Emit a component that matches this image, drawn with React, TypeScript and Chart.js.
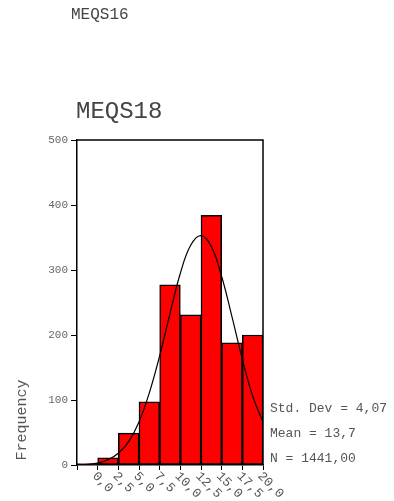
import React, { useEffect, useRef } from "react";
import { Chart, registerables } from "chart.js";

Chart.register(...registerables);

const binCenters = [0, 2.5, 5, 7.5, 10, 12.5, 15, 17.5, 20];
const binLabels = ["0,0", "2,5", "5,0", "7,5", "10,0", "12,5", "15,0", "17,5", "20,0"];
const frequencies = [2, 11, 49, 97, 277, 231, 384, 188, 200];

const curveX = [-1.25, 0, 1.25, 2.5, 3.75, 5, 6.25, 7.5, 8.75, 10, 11.25, 12.5, 13.75, 15, 16.25, 17.5, 18.75, 20, 21.25];
const curveY = [0, 1, 3, 8, 18, 36, 66, 111, 168, 233, 295, 338, 353, 336, 290, 228, 163, 106, 66];

const yTicks = [0, 100, 200, 300, 400, 500];
const statLines = ["Std. Dev = 4,07", "Mean = 13,7", "N = 1441,00"];
const topTitle = "MEQS16";
const chartTitle = "MEQS18";
const yTitle = "Frequency";

const FONT = "'Liberation Mono', 'Courier New', monospace";

export default function App() {
  const ref = useRef<HTMLCanvasElement | null>(null);

  useEffect(() => {
    const canvas = ref.current;
    if (!canvas) return;

    const overlay = {
      id: "overlay",
      afterDraw(chart: any) {
        const ctx = chart.ctx;
        const area = chart.chartArea;
        const xs = chart.scales.x;
        ctx.save();
        // frame top/right
        ctx.strokeStyle = "#000";
        ctx.lineWidth = 1.5;
        ctx.beginPath();
        ctx.moveTo(area.left, area.top);
        ctx.lineTo(area.right, area.top);
        ctx.lineTo(area.right, area.bottom);
        ctx.stroke();

        ctx.fillStyle = "#444";
        ctx.textAlign = "left";
        ctx.textBaseline = "alphabetic";
        ctx.font = `16px ${FONT}`;
        ctx.fillText(topTitle, 71, 19);
        ctx.font = `24px ${FONT}`;
        ctx.fillText(chartTitle, 76, 118);

        ctx.font = `13px ${FONT}`;
        ctx.fillStyle = "#555";
        statLines.forEach((s, i) => {
          ctx.fillText(s, 270, 412 + i * 25);
        });

        // y title
        ctx.save();
        ctx.translate(26, 420);
        ctx.rotate(-Math.PI / 2);
        ctx.textAlign = "center";
        ctx.font = `15px ${FONT}`;
        ctx.fillStyle = "#555";
        ctx.fillText(yTitle, 0, 0);
        ctx.restore();

        // x labels rotated clockwise
        ctx.font = `13px ${FONT}`;
        ctx.fillStyle = "#555";
        binCenters.forEach((v, i) => {
          const px = xs.getPixelForValue(v);
          ctx.save();
          ctx.translate(px + 7, area.bottom + 9);
          ctx.rotate(Math.PI / 4);
          ctx.textAlign = "left";
          ctx.textBaseline = "middle";
          ctx.fillText(binLabels[i], 0, 0);
          ctx.restore();
        });
        ctx.restore();
      },
    };

    const chart = new Chart(canvas, {
      type: "bar",
      data: {
        datasets: [
          {
            type: "line",
            data: curveX.map((x, i) => ({ x, y: curveY[i] })),
            borderColor: "#000",
            borderWidth: 1.2,
            pointRadius: 0,
            tension: 0.4,
            fill: false,
            order: 0,
          } as any,
          {
            type: "bar",
            data: binCenters.map((x, i) => ({ x, y: frequencies[i] })),
            backgroundColor: "#ff0000",
            borderColor: "#000",
            borderWidth: 1.5,
            borderSkipped: false,
            barPercentage: 1,
            categoryPercentage: 1,
            order: 1,
          } as any,
        ],
      },
      options: {
        responsive: false,
        animation: false,
        events: [],
        layout: { padding: { top: 140, right: 131, left: 0, bottom: 0 } },
        plugins: { legend: { display: false }, tooltip: { enabled: false }, title: { display: false } },
        scales: {
          x: {
            type: "linear",
            min: -1.25,
            max: 21.25,
            offset: false,
            afterBuildTicks: (s: any) => {
              s.ticks = binCenters.map((v) => ({ value: v }));
            },
            afterFit: (s: any) => {
              s.height = 36;
            },
            ticks: { display: false },
            grid: { drawOnChartArea: false, drawTicks: true, tickLength: 5, color: "#000", lineWidth: 1 },
            border: { display: true, color: "#000", width: 1.5 },
          },
          y: {
            min: 0,
            max: 500,
            afterBuildTicks: (s: any) => {
              s.ticks = yTicks.map((v) => ({ value: v }));
            },
            afterFit: (s: any) => {
              s.width = 77;
            },
            ticks: { color: "#666", font: { family: FONT, size: 11 }, padding: 3 },
            grid: { drawOnChartArea: false, drawTicks: true, tickLength: 6, color: "#000", lineWidth: 1 },
            border: { display: true, color: "#000", width: 1.5 },
          },
        },
      },
      plugins: [overlay],
    });

    return () => chart.destroy();
  }, []);

  return (
    <div style={{ position: "absolute", left: 0, top: 0, width: 394, height: 501, background: "#fff" }}>
      <canvas ref={ref} width={394} height={501} style={{ width: 394, height: 501, display: "block" }} />
    </div>
  );
}
